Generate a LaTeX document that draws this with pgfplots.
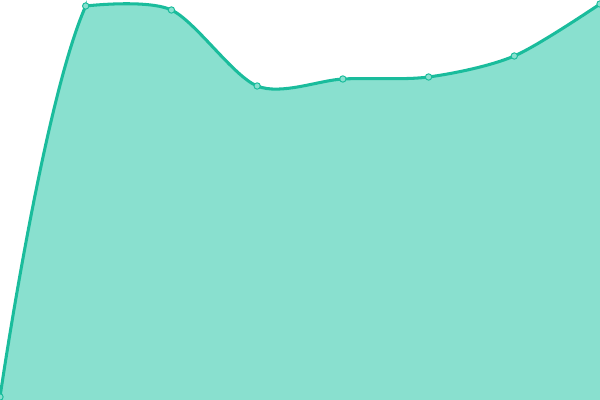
\documentclass[border=0pt]{standalone}
\usepackage{pgfplots}
\pgfplotsset{compat=1.18}
\definecolor{turq}{HTML}{1ABC9C}
\definecolor{turqfill}{HTML}{89E0CF}
% the spline bends sharply at the 2nd point, so it is drawn in two pieces
\pgfplotstableread{
x y
0 3
1 394
2 390
}\firstpart
\pgfplotstableread{
x y
1 394
2 390
3 314
4 321
5 323
6 344
7 396
}\restpart
\pgfplotstableread{
x y
0 3
1 394
2 390
3 314
4 321
5 323
6 344
7 396
}\allpoints
\pgfplotsset{
  base/.style={scale only axis, hide axis, ymin=0, ymax=400, height=4in},
}
\begin{document}
\begin{tikzpicture}
% area right of the 2nd point
\begin{axis}[base, width=6in, xmin=0, xmax=7]
\addplot[fill=turqfill, draw=none, smooth, tension=0.5] table {\restpart} \closedcycle;
\end{axis}
% first segment, clipped just past x=1
\begin{axis}[base, width=0.865714in, xmin=0, xmax=1.01]
\addplot[fill=turqfill, draw=none, smooth, tension=0.9] table {\firstpart} \closedcycle;
\addplot[turq, line width=2.2pt, smooth, tension=0.9] table {\firstpart};
\end{axis}
% line right of the 2nd point and the markers
\begin{axis}[base, width=6in, xmin=0, xmax=7, clip marker paths=true]
\addplot[turq, line width=2.2pt, smooth, tension=0.5] table {\restpart};
\addplot[only marks, mark=*, mark size=2.3pt,
  mark options={fill=turqfill, draw=turq, line width=0.7pt}] table {\allpoints};
\end{axis}
\end{tikzpicture}
\end{document}
